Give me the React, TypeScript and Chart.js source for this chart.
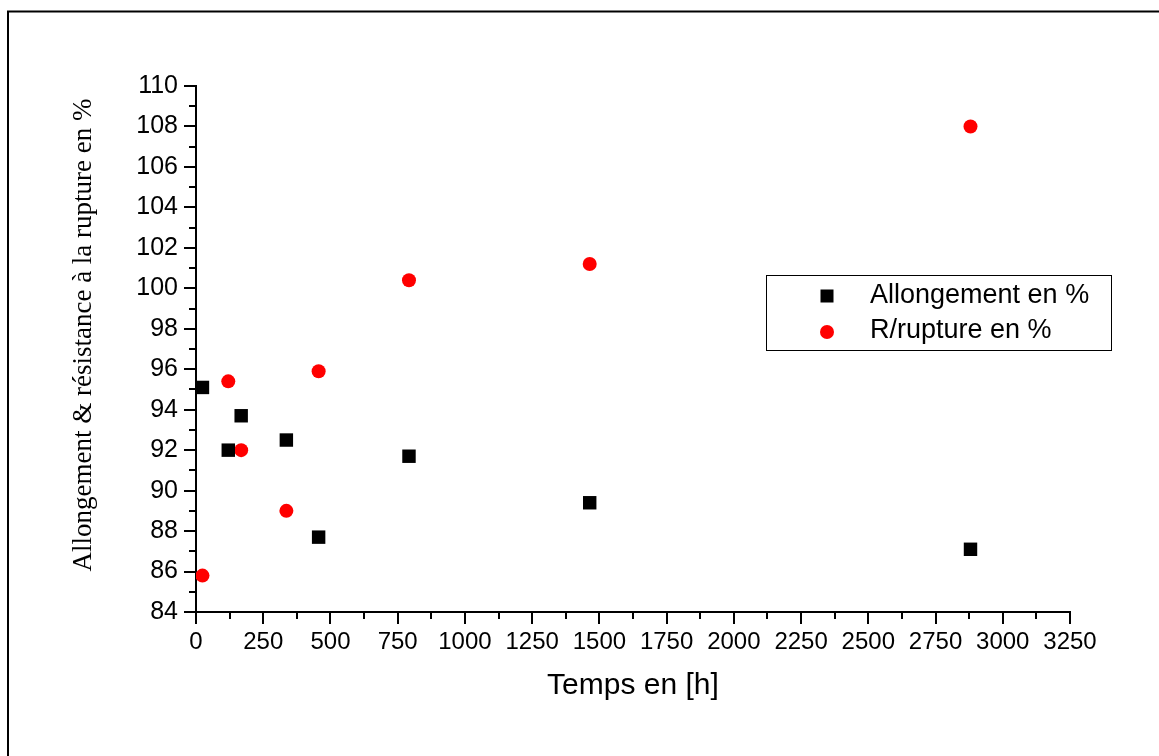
import React, { useEffect, useRef } from "react";
import { Chart, registerables } from "chart.js";

Chart.register(...registerables);

// Data
const hours = [24, 120, 168, 336, 456, 792, 1464, 2880];
const allongement = [95.1, 92.0, 93.7, 92.5, 87.7, 91.7, 89.4, 87.1];
const rupture = [85.8, 95.4, 92.0, 89.0, 95.9, 100.4, 101.2, 108.0];

const seriesNames = ["Allongement en %", "R/rupture en %"];
const xTitle = "Temps en [h]";
const yTitle = "Allongement & résistance à la rupture en %";

const xMin = 0;
const xMax = 3250;
const xMajorStep = 250;
const xMinorStep = 125;
const yMin = 84;
const yMax = 110;
const yMajorStep = 2;
const yMinorStep = 1;

const SANS = '"Liberation Sans", Arial, sans-serif';
const SERIF = '"Liberation Serif", "Times New Roman", serif';

const decorPlugin = {
  id: "decor",
  afterDraw(chart: any) {
    const { ctx, chartArea } = chart;
    const xs = chart.scales.x;
    const ys = chart.scales.y;
    ctx.save();
    // outer frame
    ctx.strokeStyle = "#000";
    ctx.lineWidth = 2;
    ctx.strokeRect(8, 11.5, 1300, 900);

    // ticks (outward), major and minor
    ctx.lineWidth = 2;
    ctx.beginPath();
    for (let v = xMin; v <= xMax + 1e-9; v += xMinorStep) {
      const px = Math.round(xs.getPixelForValue(v));
      const len = Math.abs(v % xMajorStep) < 1e-9 ? 12 : 7;
      ctx.moveTo(px, chartArea.bottom);
      ctx.lineTo(px, chartArea.bottom + len);
    }
    for (let v = yMin; v <= yMax + 1e-9; v += yMinorStep) {
      const py = Math.round(ys.getPixelForValue(v));
      const len = Math.abs((v - yMin) % yMajorStep) < 1e-9 ? 12 : 7;
      ctx.moveTo(chartArea.left, py);
      ctx.lineTo(chartArea.left - len, py);
    }
    ctx.stroke();

    // axis titles
    ctx.fillStyle = "#000";
    ctx.textAlign = "center";
    ctx.textBaseline = "middle";
    ctx.font = `30px ${SANS}`;
    ctx.fillText(xTitle, (chartArea.left + chartArea.right) / 2, 686);

    ctx.save();
    ctx.translate(84, 335);
    ctx.rotate(-Math.PI / 2);
    ctx.font = `27px ${SERIF}`;
    ctx.fillText(yTitle, 0, 0);
    ctx.restore();

    // legend
    ctx.lineWidth = 1;
    ctx.strokeStyle = "#000";
    ctx.strokeRect(766.5, 275.5, 345, 75);
    const rows = [296, 331];
    const ds = chart.data.datasets;
    ctx.font = `27px ${SANS}`;
    ctx.textAlign = "left";
    rows.forEach((ry: number, i: number) => {
      ctx.fillStyle = ds[i].backgroundColor;
      if (ds[i].pointStyle === "rect") {
        ctx.fillRect(820.5, ry - 6.5, 13, 13);
      } else {
        ctx.beginPath();
        ctx.arc(827, ry + 1, 7, 0, Math.PI * 2);
        ctx.fill();
      }
      ctx.fillStyle = "#000";
      ctx.fillText(seriesNames[i], 870, ry);
    });
    ctx.restore();
  },
};

export default function App() {
  const ref = useRef<HTMLCanvasElement | null>(null);

  useEffect(() => {
    if (!ref.current) return;
    const chart = new Chart(ref.current, {
      type: "scatter",
      data: {
        datasets: [
          {
            label: seriesNames[0],
            data: hours.map((h, i) => ({ x: h, y: allongement[i] })),
            pointStyle: "rect",
            pointRadius: 9.5,
            pointHoverRadius: 9.5,
            backgroundColor: "#000000",
            borderWidth: 0,
          },
          {
            label: seriesNames[1],
            data: hours.map((h, i) => ({ x: h, y: rupture[i] })),
            pointStyle: "circle",
            pointRadius: 7,
            pointHoverRadius: 7,
            backgroundColor: "#ff0000",
            borderWidth: 0,
          },
        ],
      },
      options: {
        animation: false,
        responsive: true,
        maintainAspectRatio: false,
        layout: { padding: { left: 0, top: 86, right: 89, bottom: 0 } },
        plugins: {
          legend: { display: false },
          tooltip: { enabled: false },
          title: { display: false },
        },
        scales: {
          x: {
            type: "linear",
            min: xMin,
            max: xMax,
            grid: { display: false, drawTicks: false },
            border: { display: true, color: "#000", width: 2 },
            ticks: {
              stepSize: xMajorStep,
              autoSkip: false,
              maxRotation: 0,
              padding: 16,
              color: "#000",
              font: { family: SANS, size: 24 },
              callback: (v: any) => String(v),
            },
            afterFit(scale: any) {
              scale.height = 144;
            },
          },
          y: {
            type: "linear",
            min: yMin,
            max: yMax,
            grid: { display: false, drawTicks: false },
            border: { display: true, color: "#000", width: 2 },
            ticks: {
              stepSize: yMajorStep,
              autoSkip: false,
              padding: 18,
              color: "#000",
              font: { family: SANS, size: 25 },
              callback: (v: any) => String(v),
            },
            afterFit(scale: any) {
              scale.width = 196;
            },
          },
        },
      },
      plugins: [decorPlugin],
    });
    return () => chart.destroy();
  }, []);

  return (
    <div
      style={{
        position: "fixed",
        left: 0,
        top: 0,
        width: "1159px",
        height: "756px",
        background: "#fff",
      }}
    >
      <canvas ref={ref} />
    </div>
  );
}
